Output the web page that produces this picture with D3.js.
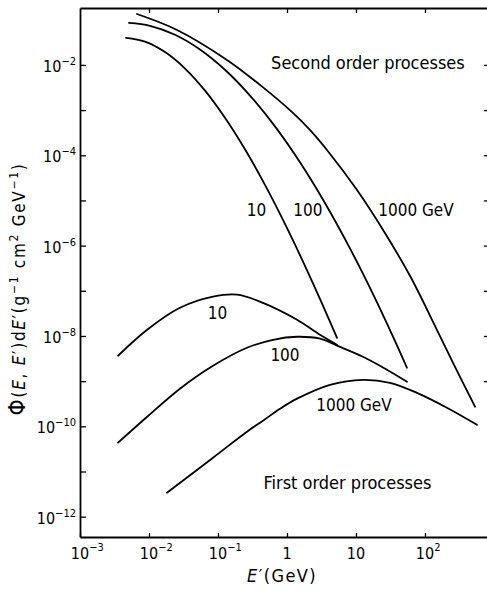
<!DOCTYPE html>
<html><head><meta charset="utf-8">
<script src="https://cdn.jsdelivr.net/npm/d3@7"></script>
<style>body{margin:0;background:#fff}svg{display:block}text{font-stretch:condensed}</style>
</head><body>
<svg id="chart" width="487" height="591"></svg>
<script>
// ---- data (E' in GeV, Phi in g^-1 cm^2 GeV^-1) ----
const xTickValues = [1e-3, 1e-2, 1e-1, 1, 10, 100];
const xTickBase   = ["10", "10", "10", "1", "10", "10"];
const xTickSup    = ["−3", "−2", "−1", "", "", "2"];
const yTickValues = [1e-12, 1e-11, 1e-10, 1e-9, 1e-8, 1e-7, 1e-6, 1e-5, 1e-4, 1e-3, 1e-2];
const yTickSup    = ["−12", "", "−10", "", "−8", "", "−6", "", "−4", "", "−2"];
const yRightTicks = [1e-9, 1e-8, 1e-7, 1e-6, 1e-5, 1e-4, 1e-3, 1e-2];

const second10 = [[0.00464,0.0395],[0.00875,0.0327],[0.01706,0.0192],[0.03327,8.32e-3],[0.0649,2.70e-3],[0.1262,6.79e-4],[0.246,1.36e-4],[0.480,2.21e-5],[0.935,3.03e-6],[1.823,3.57e-7],[3.006,6.6e-8],[5.31,9.12e-9]];
const second100 = [[0.00513,0.0849],[0.01033,0.0733],[0.0238,0.0466],[0.0548,0.0220],[0.1262,7.82e-3],[0.291,2.10e-3],[0.670,4.36e-4],[1.543,7.0e-5],[3.55,8.8e-6],[8.18,8.7e-7],[18.84,6.9e-8],[36.7,7.8e-9],[54.8,1.98e-9]];
const second1000 = [[0.0067,0.134],[0.0255,0.0594],[0.135,0.0129],[0.406,3.61e-3],[1.22,8.7e-4],[2.15,3.65e-4],[3.80,1.31e-4],[10.3,1.72e-5],[24.6,2.24e-6],[60.6,2.15e-7],[149,1.37e-8],[255,2.55e-9],[531,2.72e-10]];
const first10 = [[0.00356,3.65e-9],[0.0094,1.37e-8],[0.0281,4.2e-8],[0.0847,7.4e-8],[0.188,8.2e-8],[0.449,5.4e-8],[1.40,2.28e-8],[3.01,1.06e-8],[5.3,6.4e-9]];
const first100 = [[0.00356,4.34e-11],[0.0094,1.63e-10],[0.0281,6.8e-10],[0.0847,2.19e-9],[0.263,5.48e-9],[0.627,8.24e-9],[1.40,9.6e-9],[3.01,8.7e-9],[5.3,6.1e-9],[12.6,3.47e-9],[28.1,1.79e-9],[54.8,9.7e-10]];
const first1000 = [[0.0182,3.4e-12],[0.0847,2.02e-11],[0.263,7.6e-11],[0.449,1.33e-10],[0.792,2.45e-10],[1.40,4.1e-10],[4.20,8.3e-10],[12.6,1.07e-9],[31.1,9.2e-10],[76.6,5.5e-10],[208,2.58e-10],[567,1.08e-10]];

const seriesList = [second10, second100, second1000, first10, first100, first1000];

const labelTexts = ["10", "100", "1000 GeV", "10", "100", "1000 GeV", "Second order processes", "First order processes"];
const labelAnchors = [[0.361,6.2e-6],[2.01,6.2e-6],[74.1,6.2e-6],[0.0984,3.18e-8],[0.935,3.84e-9],[9.35,2.93e-10],[14.9,1.16e-2],[7.53,5.65e-12]];

// ---- drawing ----
const svg = d3.select("#chart");
const FONT = "'DejaVu Sans', sans-serif";
const mLeft = 80, mRight = 487, mTop = 8, mBottom = 537;

const x = d3.scaleLog().domain([1e-3, Math.pow(10, 2.899)]).range([mLeft, mRight]);
const y = d3.scaleLog().domain([Math.pow(10, -12.45), Math.pow(10, -0.74)]).range([mBottom, mTop]);

// axes
const gBottom = svg.append("g").attr("transform", `translate(0,${mBottom})`)
  .call(d3.axisBottom(x).tickValues(xTickValues).tickSize(-4).tickSizeOuter(0).tickFormat(""));
const gTop = svg.append("g").attr("transform", `translate(0,${mTop})`)
  .call(d3.axisTop(x).tickValues(xTickValues.slice(1)).tickSize(-5).tickSizeOuter(0).tickFormat(""));
const gLeft = svg.append("g").attr("transform", `translate(${mLeft},0)`)
  .call(d3.axisLeft(y).tickValues(yTickValues).tickSize(-6).tickSizeOuter(0).tickFormat(""));
const gRight = svg.append("g").attr("transform", `translate(${mRight},0)`)
  .call(d3.axisLeft(y).tickValues(yRightTicks).tickSize(3).tickSizeOuter(0).tickFormat(""));
gRight.select(".domain").remove();

[gBottom, gTop, gLeft, gRight].forEach(g => {
  g.selectAll(".domain").attr("stroke", "#000").attr("stroke-width", 1.8);
  g.selectAll(".tick line").attr("stroke", "#000").attr("stroke-width", 1.3);
});

// x tick labels
xTickValues.forEach((v, i) => {
  svg.append("text")
    .attr("x", x(v)).attr("y", mBottom + 22)
    .attr("font-family", FONT).attr("font-size", 16).attr("fill", "#000")
    .attr("text-anchor", "middle").text(xTickBase[i]);
  if (xTickSup[i]) {
    svg.append("text")
      .attr("x", x(v) + (xTickBase[i].length * 4.6)).attr("y", mBottom + 14)
      .attr("font-family", FONT).attr("font-size", 11).attr("fill", "#000")
      .text(xTickSup[i]);
  }
});

// y tick labels
yTickValues.forEach((v, i) => {
  if (!yTickSup[i]) return;
  const t = svg.append("text")
    .attr("x", mLeft - 4).attr("y", y(v) + 7)
    .attr("font-family", FONT).attr("font-size", 16).attr("fill", "#000")
    .attr("text-anchor", "end");
  t.append("tspan").text("10");
  t.append("tspan").attr("dy", -7).attr("font-size", 11).text(yTickSup[i]);
});

// curves
const line = d3.line().x(d => x(d[0])).y(d => y(d[1])).curve(d3.curveCatmullRom.alpha(0.5));
svg.append("g").selectAll("path").data(seriesList).join("path")
  .attr("d", line).attr("fill", "none").attr("stroke", "#000")
  .attr("stroke-width", 1.8).attr("stroke-linecap", "round");

// curve labels
svg.append("g").selectAll("text").data(labelTexts).join("text")
  .attr("x", (d, i) => x(labelAnchors[i][0]))
  .attr("y", (d, i) => y(labelAnchors[i][1]))
  .attr("text-anchor", "middle").attr("dominant-baseline", "central")
  .attr("font-family", FONT).attr("font-size", (d, i) => i >= 6 ? 18 : 17)
  .attr("fill", "#000").text(d => d);

// x axis title
const xt = svg.append("text").attr("x", 282).attr("y", 582)
  .attr("text-anchor", "middle").attr("font-family", FONT).attr("font-size", 18)
  .attr("letter-spacing", 1.4).attr("fill", "#000");
xt.append("tspan").attr("font-style", "italic").text("E");
xt.append("tspan").text("′(GeV)");

// y axis title
const yt = svg.append("text").attr("transform", "translate(25,289) rotate(-90)")
  .attr("text-anchor", "middle").attr("font-family", FONT).attr("font-size", 17)
  .attr("letter-spacing", 1.7).attr("fill", "#000");
yt.append("tspan").attr("font-size", 23).text("Φ");
yt.append("tspan").text("(");
yt.append("tspan").attr("font-style", "italic").text("E");
yt.append("tspan").text(", ");
yt.append("tspan").attr("font-style", "italic").text("E");
yt.append("tspan").text("′)d");
yt.append("tspan").attr("font-style", "italic").text("E");
yt.append("tspan").text("′(g");
yt.append("tspan").attr("dy", -7).attr("font-size", 12).text("−1");
yt.append("tspan").attr("dy", 7).text("  cm");
yt.append("tspan").attr("dy", -7).attr("font-size", 12).text("2");
yt.append("tspan").attr("dy", 7).text("  GeV");
yt.append("tspan").attr("dy", -7).attr("font-size", 12).text("−1");
yt.append("tspan").attr("dy", 7).text(")");
</script>
</body></html>
